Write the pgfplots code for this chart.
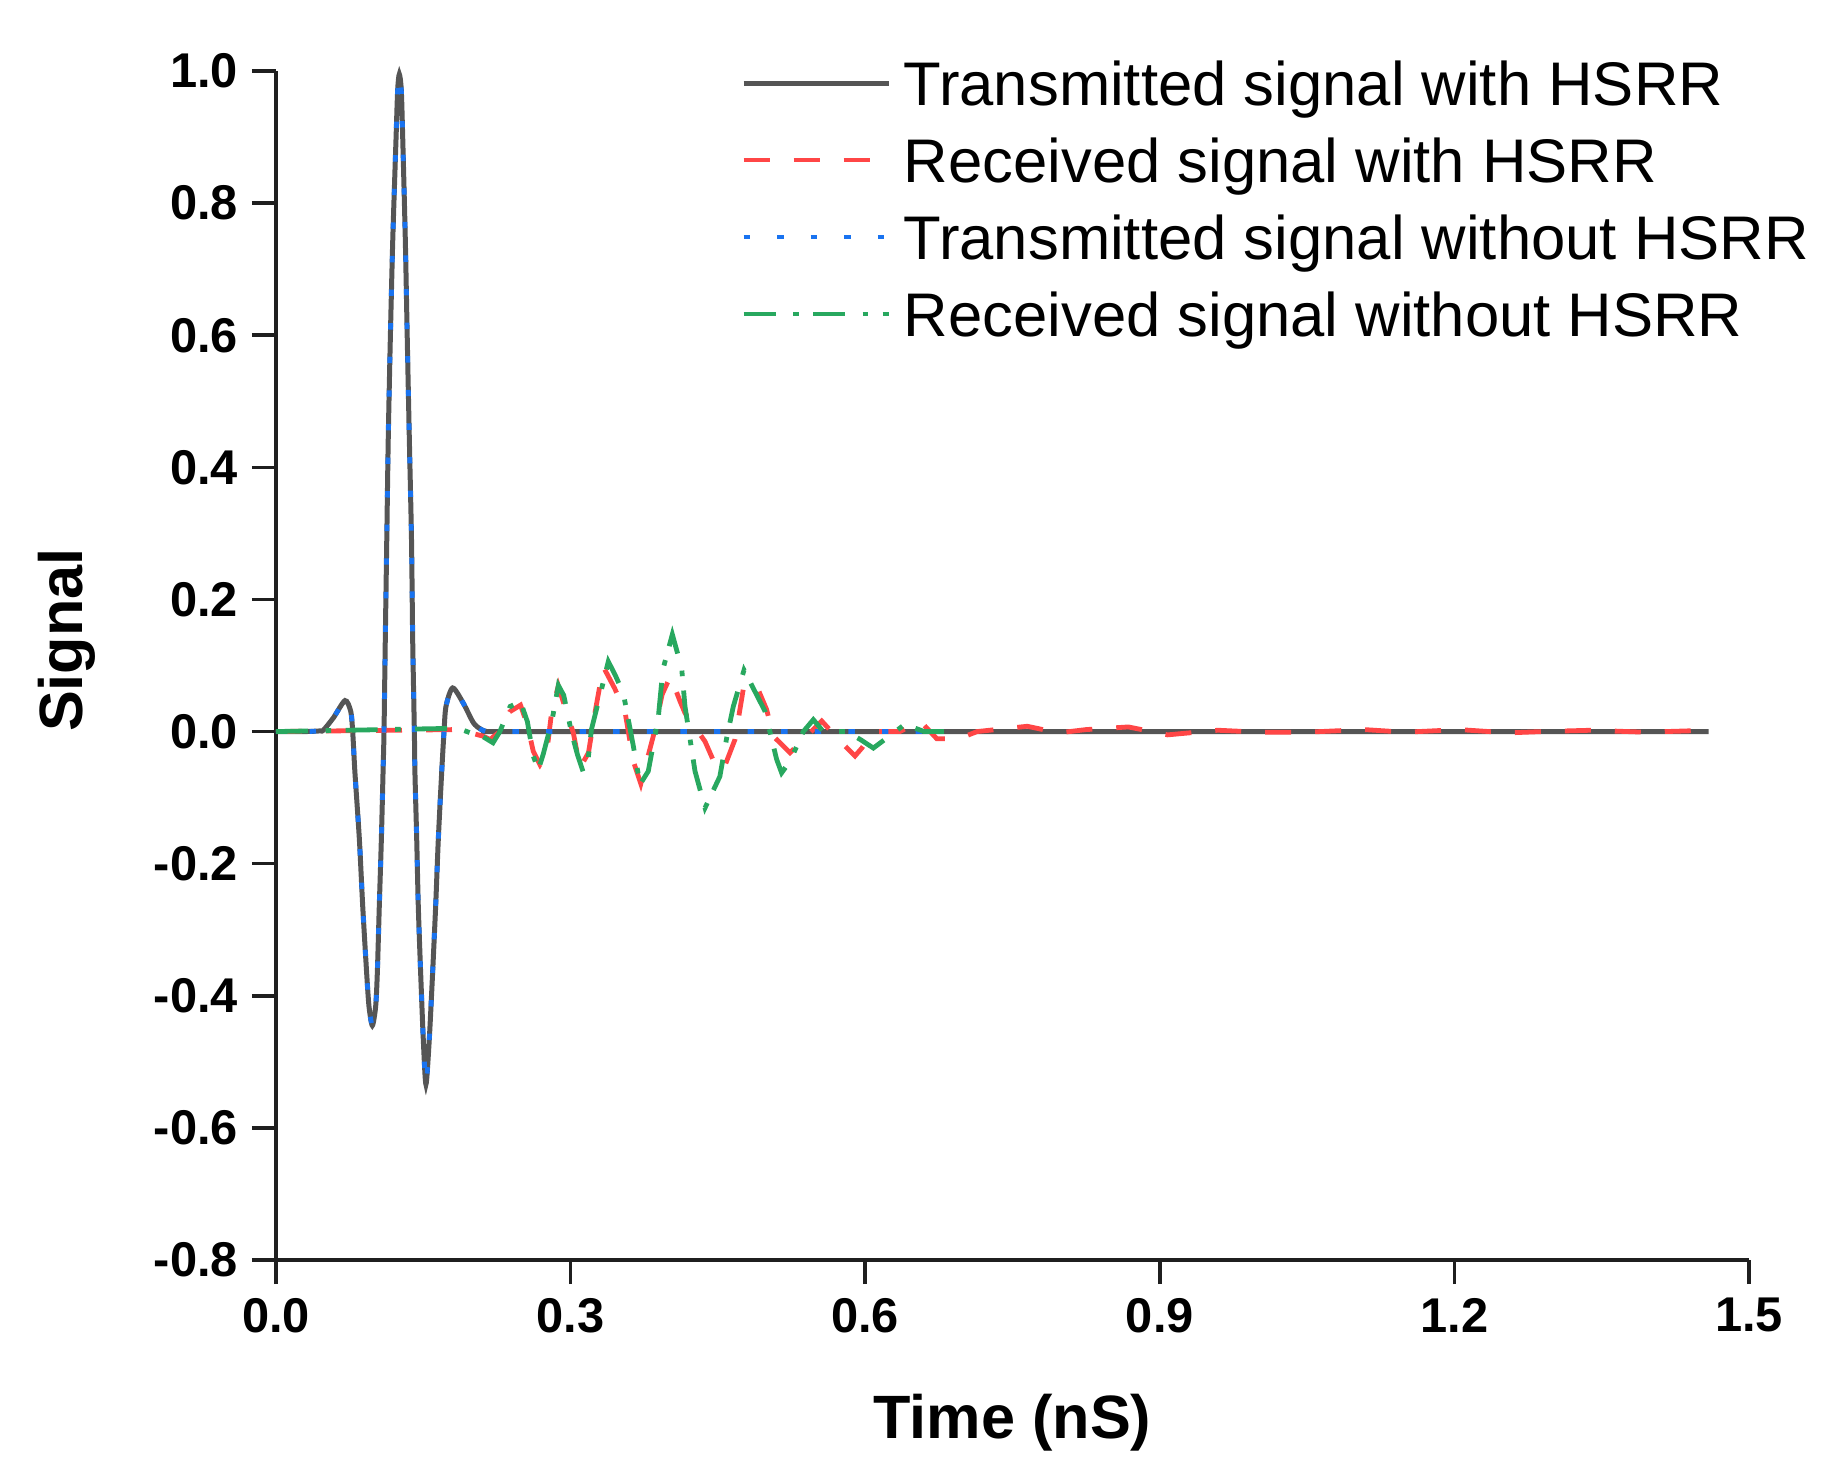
\documentclass[border=0pt]{standalone}
\usepackage{pgfplots}
\pgfplotsset{compat=1.18}
\usepackage{fontspec}
\setmainfont{Liberation Sans}
\definecolor{cgray}{RGB}{85,85,85}
\definecolor{cred}{RGB}{255,70,70}
\definecolor{cblue}{RGB}{25,115,240}
\definecolor{cgreen}{RGB}{40,168,95}
\begin{document}
\begin{tikzpicture}
\begin{axis}[
  at={(0,0)}, anchor=south west,
  scale only axis, width=368.25pt, height=297.25pt,
  xmin=0, xmax=1.5, ymin=-0.8, ymax=1.0,
  axis lines*=left,
  axis line style={line width=0.9pt, color=black!88},
  tick align=outside,
  major tick length=6pt,
  tick style={line width=0.9pt, color=black!88},
  xtick={0,0.3,0.6,0.9,1.2,1.5},
  ytick={-0.8,-0.6,-0.4,-0.2,0,0.2,0.4,0.6,0.8,1.0},
  minor tick num=0,
  /pgf/number format/.cd, fixed, fixed zerofill, precision=1, assume math mode=true,
  /pgfplots/.cd,
  tick label style={font=\fontsize{12.2}{14}\selectfont\bfseries},
  xlabel={Time (nS)},
  ylabel={Signal},
  label style={font=\fontsize{15.3}{18}\selectfont\bfseries},
  xlabel style={at={(axis description cs:0.5,-0.1497)}, anchor=base},
  ylabel style={at={(axis description cs:-0.1317,0.5214)}, anchor=base, rotate=0},
  clip=false,
  legend style={at={(rel axis cs:0.3157,1.0084)}, anchor=north west,
    draw=none, fill=none, inner sep=0pt, outer sep=0pt,
    row sep=4.75pt, column sep=3.2pt,
    font=\fontsize{15.4}{18}\selectfont,
    cells={anchor=base west},
    nodes={inner sep=0pt, outer sep=0pt, text height=11pt, text depth=3.5pt}},
  legend image code/.code={\draw[#1] (0pt,5.5pt) -- (36.25pt,5.5pt);},
]
% Transmitted signal with HSRR
\addplot[cgray, line width=1.25pt, smooth, tension=0.45] coordinates {
(0,0) (0.03,0) (0.045,0.001) (0.0482,0.002) (0.0584,0.0207) (0.0703,0.0469) (0.0761,0.0307)
(0.0781,0) (0.0804,-0.0625) (0.0849,-0.163) (0.0883,-0.264) (0.0923,-0.365) (0.0947,-0.416)
(0.0981,-0.445) (0.1015,-0.416) (0.1032,-0.365) (0.1052,-0.264) (0.1073,-0.163) (0.1090,-0.0625)
(0.1100,0) (0.1113,0.139) (0.1128,0.290) (0.1143,0.442) (0.1164,0.593) (0.1189,0.744)
(0.1222,0.896) (0.1239,0.971) (0.1256,0.995) (0.1276,0.971) (0.1291,0.896) (0.1317,0.744)
(0.1337,0.593) (0.1358,0.442) (0.1380,0.290) (0.1392,0.139) (0.1409,0) (0.1415,-0.0625)
(0.1433,-0.163) (0.1449,-0.264) (0.1473,-0.365) (0.1500,-0.466) (0.1527,-0.534)
(0.1561,-0.466) (0.1595,-0.365) (0.1626,-0.264) (0.1653,-0.163) (0.1687,-0.0625)
(0.1711,0) (0.1731,0.038) (0.1799,0.066) (0.1907,0.043) (0.2009,0.0136) (0.208,0.004)
(0.2145,0) (0.225,0) (0.3,0) (1.459,0)
};
\addlegendentry{Transmitted signal with HSRR}
% Received signal with HSRR
\addplot[cred, line width=1.2pt, dash pattern=on 6.5pt off 6pt] coordinates {
(0,0) (0.185,0.003) (0.211,-0.007) (0.218,-0.012) (0.228,0) (0.238,0.03) (0.249,0.04)
(0.256,0.01) (0.262,-0.03) (0.2688,-0.05) (0.2757,-0.032) (0.2808,0.031) (0.2875,0.069)
(0.2961,0.028) (0.3028,-0.002) (0.3096,-0.055) (0.3182,-0.032) (0.325,0.03) (0.3333,0.098)
(0.345,0.065) (0.3554,0.03) (0.3639,-0.045) (0.3715,-0.079) (0.3842,-0.007) (0.3932,0.056)
(0.4017,0.084) (0.4114,0.046) (0.4165,0.028) (0.4369,-0.015) (0.4487,-0.055) (0.4555,-0.058)
(0.4674,-0.012) (0.4766,0.071) (0.4895,0.069) (0.4997,0.033) (0.5064,-0.007) (0.5234,-0.032)
(0.5404,-0.007) (0.5557,0.016) (0.573,-0.012) (0.5896,-0.037) (0.5966,-0.025) (0.6083,0)
(0.6354,0) (0.656,0.016) (0.673,-0.011) (0.695,-0.011) (0.714,0) (0.765,0.008) (0.797,-0.002)
(0.825,0.003) (0.868,0.007) (0.908,-0.005) (0.959,0.002) (1.002,-0.001) (1.049,-0.001)
(1.108,0.003) (1.15,-0.001) (1.205,0.003) (1.255,-0.002) (1.29,0) (1.34,0.002) (1.394,-0.001)
(1.459,0.002)
};
\addlegendentry{Received signal with HSRR}
% Transmitted signal without HSRR
\addplot[cblue, line width=1.2pt, dash pattern=on 1.6pt off 6.8pt, smooth, tension=0.45] coordinates {
(0,0) (0.03,0) (0.045,0.001) (0.0482,0.002) (0.0584,0.0207) (0.0703,0.0469) (0.0761,0.0307)
(0.0781,0) (0.0804,-0.0625) (0.0849,-0.163) (0.0883,-0.264) (0.0923,-0.365) (0.0947,-0.416)
(0.0981,-0.445) (0.1015,-0.416) (0.1032,-0.365) (0.1052,-0.264) (0.1073,-0.163) (0.1090,-0.0625)
(0.1100,0) (0.1113,0.139) (0.1128,0.290) (0.1143,0.442) (0.1164,0.593) (0.1189,0.744)
(0.1222,0.896) (0.1239,0.971) (0.1256,0.995) (0.1276,0.971) (0.1291,0.896) (0.1317,0.744)
(0.1337,0.593) (0.1358,0.442) (0.1380,0.290) (0.1392,0.139) (0.1409,0) (0.1415,-0.0625)
(0.1433,-0.163) (0.1449,-0.264) (0.1473,-0.365) (0.1500,-0.466) (0.1527,-0.534)
(0.1561,-0.466) (0.1595,-0.365) (0.1626,-0.264) (0.1653,-0.163) (0.1687,-0.0625)
(0.1711,0) (0.1731,0.038) (0.1799,0.066) (0.1907,0.043) (0.2009,0.0136) (0.208,0.004)
(0.2145,0) (0.225,0) (0.3,0) (0.66,0)
};
\addlegendentry{Transmitted signal without HSRR}
% Received signal without HSRR
\addplot[cgreen, line width=1.2pt, dash pattern=on 8pt off 4.4pt on 1.4pt off 3.6pt] coordinates {
(0,0) (0.185,0.005) (0.20,-0.003) (0.211,-0.008) (0.221,-0.017) (0.228,0) (0.2384,0.038)
(0.249,0.045) (0.256,0.015) (0.262,-0.037) (0.2671,-0.058) (0.272,-0.035) (0.281,0.016)
(0.2875,0.070) (0.293,0.055) (0.301,-0.002) (0.307,-0.035) (0.313,-0.062) (0.318,-0.04)
(0.3212,0.003) (0.3293,0.051) (0.3384,0.106) (0.3459,0.084) (0.3537,0.058) (0.3639,-0.022)
(0.3707,-0.080) (0.3791,-0.06) (0.3893,0.021) (0.394,0.094) (0.4036,0.147) (0.4131,0.096)
(0.4165,0.038) (0.4267,-0.060) (0.4369,-0.1155) (0.452,-0.068) (0.4589,-0.010) (0.4657,0.038)
(0.4766,0.093) (0.4979,0.031) (0.5098,-0.042) (0.5149,-0.0625) (0.5234,-0.045) (0.5370,0)
(0.5472,0.018) (0.5573,0) (0.581,0) (0.595,-0.012) (0.6083,-0.025) (0.6405,0.011) (0.66,0)
(0.68,0)
};
\addlegendentry{Received signal without HSRR}
\end{axis}
\pgfresetboundingbox
\path[use as bounding box] (-69pt,-55pt) rectangle (391.5pt,315pt);
\end{tikzpicture}
\end{document}
